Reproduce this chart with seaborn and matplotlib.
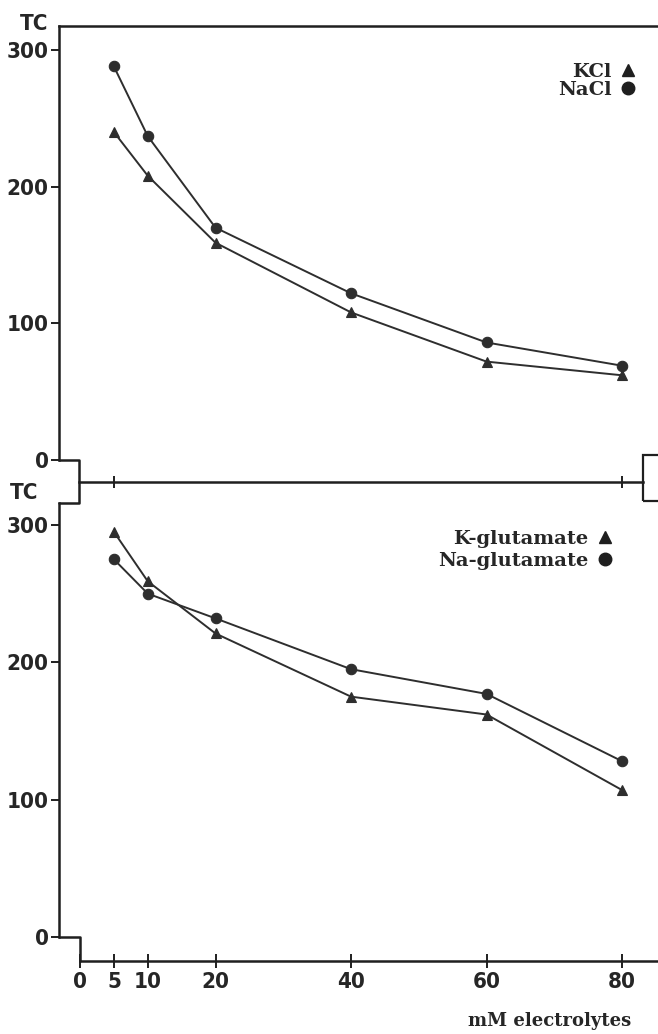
import pandas as pd
import matplotlib
matplotlib.use("Agg")
import matplotlib.pyplot as plt
import seaborn as sns
from matplotlib.lines import Line2D
from matplotlib.patches import Rectangle

# data
conc = [5, 10, 20, 40, 60, 80]
kcl = [240, 208, 159, 108, 72, 62]
nacl = [288, 237, 170, 122, 86, 69]
k_glu = [295, 259, 221, 175, 162, 107]
na_glu = [275, 250, 232, 195, 177, 128]

x_ticks = [0, 5, 10, 20, 40, 60, 80]
y_ticks = [0, 100, 200, 300]

top = pd.DataFrame({"mM": conc * 2, "TC": kcl + nacl,
                    "salt": ["KCl"] * 6 + ["NaCl"] * 6})
bot = pd.DataFrame({"mM": conc * 2, "TC": k_glu + na_glu,
                    "salt": ["K-glutamate"] * 6 + ["Na-glutamate"] * 6})

sns.set_style("white")
plt.rcParams["font.family"] = ["DejaVu Sans"]

INK = "#1f1f1f"
LINE = "#2e2e2e"
num_font = dict(family=["DejaVu Sans"], stretch="condensed", weight="bold", size=16)
serif_font = dict(family=["DejaVu Serif"], weight="bold", size=13)

W, H = 658, 1034
fig = plt.figure(figsize=(W / 100, H / 100), dpi=100)


def rect(l, t, r, b):
    return [l / W, 1 - b / H, (r - l) / W, (b - t) / H]


def px(x, y):
    return x / W, 1 - y / H


ax1 = fig.add_axes(rect(59, 26, 658, 460))
ax2 = fig.add_axes(rect(59, 503, 658, 937))

xlim = (-3.10, 85.31)
ax1.set_xlim(*xlim)
ax2.set_xlim(*xlim)
ax1.set_ylim(0, 317.6)
ax2.set_ylim(0, 316.0)

sns.lineplot(data=top, x="mM", y="TC", style="salt",
             markers={"KCl": "^", "NaCl": "o"}, dashes=False,
             color=LINE, linewidth=1.4, markersize=7.5,
             markeredgecolor=LINE, markeredgewidth=0.8,
             legend=False, ax=ax1)
sns.lineplot(data=bot, x="mM", y="TC", style="salt",
             markers={"K-glutamate": "^", "Na-glutamate": "o"}, dashes=False,
             color=LINE, linewidth=1.4, markersize=7.5,
             markeredgecolor=LINE, markeredgewidth=0.8,
             legend=False, ax=ax2)

for ax in (ax1, ax2):
    ax.set_facecolor("none")
    ax.set_xlabel("")
    ax.set_ylabel("")
    ax.set_yticks(y_ticks)
    ax.set_yticklabels([str(v) for v in y_ticks], fontdict=num_font)
    ax.tick_params(axis="y", direction="out", length=6, width=1.4,
                   color=INK, pad=1.5, left=True)
    ax.spines["right"].set_visible(False)
    for s in ax.spines.values():
        s.set_color(INK)
        s.set_linewidth(1.8)

# top panel: frame on top, middle axis line with two ticks
ax1.spines["bottom"].set_position(("outward", 22 * 0.72))
ax1.spines["bottom"].set_bounds(-0.15, 83.1)
ax1.set_xticks([5, 80])
ax1.set_xticklabels([])
ax1.tick_params(axis="x", direction="inout", length=9, width=1.4, color=INK, bottom=True)

# bottom panel: x axis shifted down
ax2.spines["top"].set_visible(False)
ax2.spines["bottom"].set_position(("outward", 24 * 0.72))
ax2.spines["bottom"].set_bounds(0, xlim[1])
ax2.set_xticks(x_ticks)
ax2.set_xticklabels([str(v) for v in x_ticks], fontdict=num_font)
ax2.tick_params(axis="x", direction="inout", length=10, width=1.4,
                color=INK, pad=3, bottom=True)

# axis break steps and right-hand bracket
for pts in ([(59, 460), (79, 460), (79, 503), (59, 503)],
            [(59, 937), (80, 937), (80, 961)]):
    xs, ys = zip(*[px(*p) for p in pts])
    fig.add_artist(Line2D(xs, ys, transform=fig.transFigure, color=INK, lw=1.8))
bx, by = px(643, 501)
fig.add_artist(Rectangle((bx, by), 30 / W, 46 / H, transform=fig.transFigure,
                         fill=False, edgecolor=INK, lw=1.6))

# "TC" axis labels
ax1.annotate("TC", xy=(0, 1), xycoords="axes fraction", xytext=(-8, 1.5),
             textcoords="offset points", ha="right", va="center", **num_font)
ax2.annotate("TC", xy=(0, 1), xycoords="axes fraction", xytext=(-15, 7),
             textcoords="offset points", ha="right", va="center", **num_font)

# legends: label first, marker after
def legend(ax, labels, anchor, spacing):
    handles = [Line2D([], [], ls="none", marker=m, color=INK, markersize=9)
               for m in ("^", "o")]
    leg = ax.legend(handles, labels, markerfirst=False, frameon=False,
                    loc="upper right", bbox_to_anchor=anchor,
                    prop=dict(family="DejaVu Serif", weight="bold", size=14),
                    handlelength=0.9, handletextpad=0.4, labelspacing=spacing,
                    borderpad=0, borderaxespad=0)
    return leg

legend(ax1, ["KCl", "NaCl"], ((637 - 59) / 599, 1 - (63 - 26) / 434), 0.0)
legend(ax2, ["K-glutamate", "Na-glutamate"], ((614 - 59) / 599, 1 - (530 - 503) / 434), 0.2)

ax2.set_xlabel("mM electrolytes", fontdict=serif_font)
ax2.xaxis.set_label_coords((550 - 59) / 599, -0.172)

fig.savefig("out.png", dpi=100, facecolor="white")
